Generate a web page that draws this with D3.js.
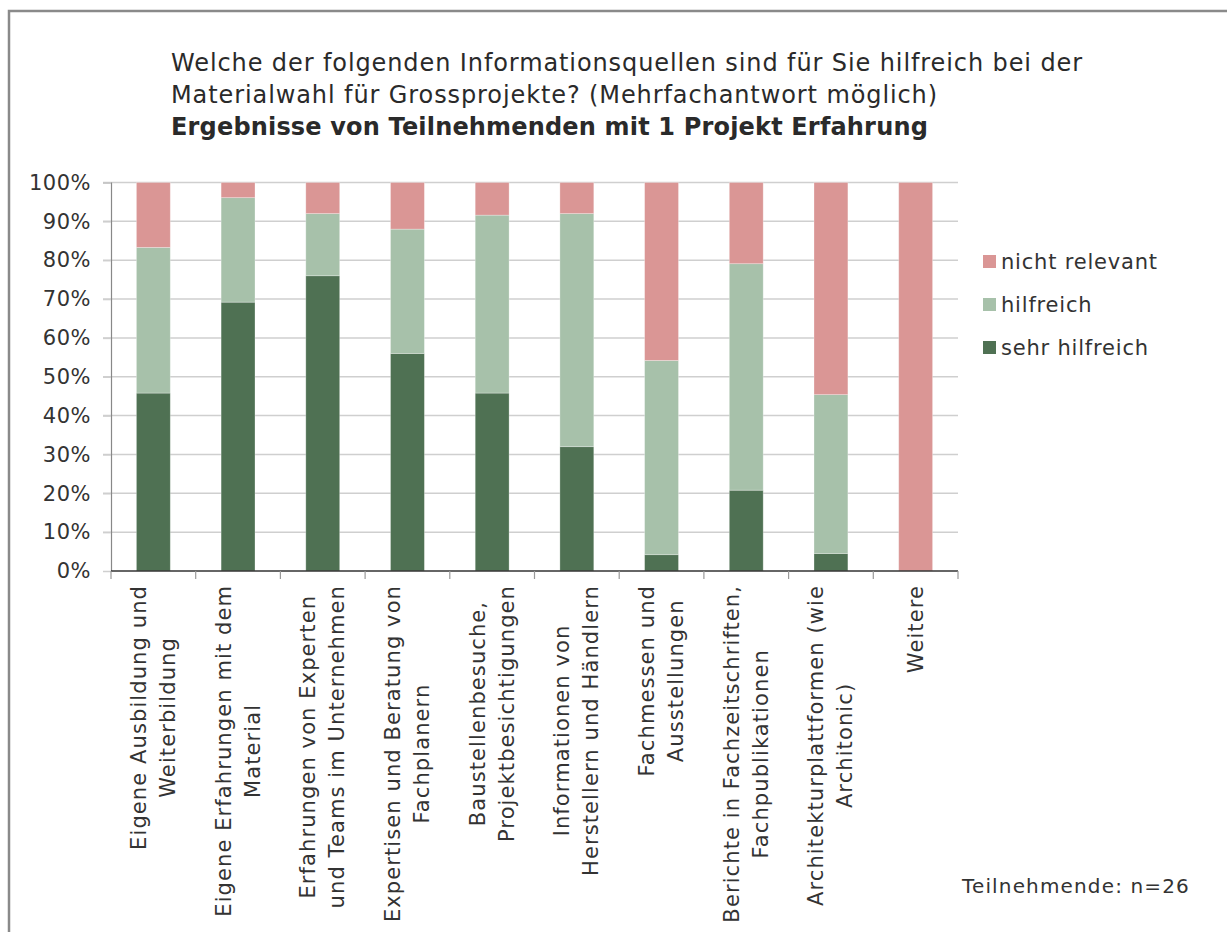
<!DOCTYPE html>
<html>
<head>
<meta charset="utf-8">
<script src="https://cdn.jsdelivr.net/npm/d3@7"></script>
<style>
  body { margin: 0; background: #fff; }
  svg { display: block; }
  text { fill: #333; }
</style>
</head>
<body>
<script>
// survey answers, share of respondents per source
var categories = [
  ["Eigene Ausbildung und", "Weiterbildung"],
  ["Eigene Erfahrungen mit dem", "Material"],
  ["Erfahrungen von Experten", "und Teams im Unternehmen"],
  ["Expertisen und Beratung von", "Fachplanern"],
  ["Baustellenbesuche,", "Projektbesichtigungen"],
  ["Informationen von", "Herstellern und Händlern"],
  ["Fachmessen und", "Ausstellungen"],
  ["Berichte in Fachzeitschriften,", "Fachpublikationen"],
  ["Architekturplattformen (wie", "Architonic)"],
  ["Weitere"]
];
var sehrHilfreich = [45.8, 69.2, 76.0, 56.0, 45.8, 32.0, 4.2, 20.8, 4.5, 0];
var hilfreich     = [37.5, 26.9, 16.0, 32.0, 45.8, 60.0, 50.0, 58.3, 40.9, 0];
var nichtRelevant = [16.7, 3.9, 8.0, 12.0, 8.4, 8.0, 45.8, 20.9, 54.6, 100];

var seriesNames = ["sehr hilfreich", "hilfreich", "nicht relevant"];
var seriesColors = ["#4f7153", "#a7c1aa", "#da9695"];
var yTicks = [0, 10, 20, 30, 40, 50, 60, 70, 80, 90, 100];

var titleLines = [
  "Welche der folgenden Informationsquellen sind für Sie hilfreich bei der",
  "Materialwahl für Grossprojekte? (Mehrfachantwort möglich)"
];
var subtitle = "Ergebnisse von Teilnehmenden mit 1 Projekt Erfahrung";
var note = "Teilnehmende: n=26";

var W = 1227, H = 932;
var plot = { left: 111, right: 958, top: 182.5, bottom: 571 };

var rows = categories.map(function (c, i) {
  return { idx: i, s0: sehrHilfreich[i], s1: hilfreich[i], s2: nichtRelevant[i] };
});

var svg = d3.select("body").append("svg")
  .attr("width", W)
  .attr("height", H);

// outer frame
svg.append("path")
  .attr("d", "M9," + H + "V11H" + W)
  .attr("fill", "none")
  .attr("stroke", "#8a8a8a")
  .attr("stroke-width", 2.5);

var font = "'DejaVu Sans', Verdana, sans-serif";

// stretch a text node with letter-spacing until it is as wide as target
function fitWidth(sel, target) {
  var w = sel.node().getComputedTextLength();
  var n = sel.text().length;
  sel.style("letter-spacing", ((target - w) / n) + "px");
}

var t1 = svg.append("g").selectAll("text")
  .data(titleLines)
  .enter().append("text")
  .attr("x", 171)
  .attr("y", function (d, i) { return 71 + i * 32; })
  .style("font-family", font)
  .style("font-size", "24px")
  .style("fill", "#2a2a2a")
  .text(function (d) { return d; });
fitWidth(d3.select(t1.nodes()[0]), 912);
fitWidth(d3.select(t1.nodes()[1]), 767);

var sub = svg.append("text")
  .attr("x", 171)
  .attr("y", 135)
  .style("font-family", font)
  .style("font-size", "24px")
  .style("font-weight", "bold")
  .style("fill", "#2a2a2a")
  .text(subtitle);
fitWidth(sub, 757);

var x = d3.scaleBand()
  .domain(d3.range(categories.length))
  .range([plot.left, plot.right])
  .paddingInner(0.6)
  .paddingOuter(0.3);

var y = d3.scaleLinear()
  .domain([0, 100])
  .range([plot.bottom, plot.top]);

// grid + y labels
var grid = svg.append("g");
grid.selectAll("line")
  .data(yTicks)
  .enter().append("line")
  .attr("x1", plot.left - 8)
  .attr("x2", plot.right)
  .attr("y1", function (d) { return y(d); })
  .attr("y2", function (d) { return y(d); })
  .attr("stroke", function (d) { return d === 0 ? "none" : "#cfcfcf"; })
  .attr("stroke-width", 1.5);

var yAxis = d3.axisLeft(y)
  .tickValues(yTicks)
  .tickSize(8)
  .tickFormat(function (d) { return d + "%"; });

var yg = svg.append("g")
  .attr("transform", "translate(" + plot.left + ",0)")
  .call(yAxis);
yg.select(".domain").attr("stroke", "#888").attr("stroke-width", 1.2);
yg.selectAll(".tick line").attr("stroke", "#cfcfcf").attr("stroke-width", 1.5);
yg.selectAll(".tick text")
  .attr("x", -20)
  .style("font-family", font)
  .style("font-size", "21px")
  .style("letter-spacing", "0.5px")
  .style("fill", "#333");

// stacked bars
var stack = d3.stack().keys(["s0", "s1", "s2"]);
var layers = stack(rows);

svg.append("g").selectAll("g")
  .data(layers)
  .enter().append("g")
  .attr("fill", function (d, i) { return seriesColors[i]; })
  .selectAll("rect")
  .data(function (d) { return d; })
  .enter().append("rect")
  .attr("x", function (d) { return x(d.data.idx); })
  .attr("width", x.bandwidth())
  .attr("y", function (d) { return y(d[1]); })
  .attr("height", function (d) { return Math.max(0, y(d[0]) - y(d[1])); })
  .attr("stroke", "#ffffff")
  .attr("stroke-opacity", 0.35)
  .attr("stroke-width", 0.8);

// x axis with boundary ticks
var xg = svg.append("g");
xg.append("line")
  .attr("x1", plot.left).attr("x2", plot.right)
  .attr("y1", plot.bottom).attr("y2", plot.bottom)
  .attr("stroke", "#333").attr("stroke-width", 1.5);
var step = (plot.right - plot.left) / categories.length;
xg.selectAll("line.tk")
  .data(d3.range(categories.length + 1))
  .enter().append("line")
  .attr("class", "tk")
  .attr("x1", function (d) { return plot.left + d * step; })
  .attr("x2", function (d) { return plot.left + d * step; })
  .attr("y1", plot.bottom)
  .attr("y2", plot.bottom + 8)
  .attr("stroke", "#999").attr("stroke-width", 1.2);

// category labels, rotated, centred lines, block aligned to the top
var labelTop = 585;
var lineGap = 29;
categories.forEach(function (lines, i) {
  var cx = x(i) + x.bandwidth() / 2;
  var g = svg.append("g")
    .attr("transform", "translate(" + cx + "," + labelTop + ") rotate(-90)");
  var t = g.append("text")
    .style("font-family", font)
    .style("font-size", "21px")
    .style("letter-spacing", "1.1px")
    .attr("text-anchor", "middle");
  var n = lines.length;
  lines.forEach(function (l, j) {
    t.append("tspan")
      .attr("x", 0)
      .attr("y", (j - (n - 1) / 2) * lineGap + 7)
      .text(l);
  });
  var maxW = d3.max(t.selectAll("tspan").nodes(), function (nd) { return nd.getComputedTextLength(); });
  t.selectAll("tspan").attr("x", -maxW / 2);
});

// legend
var legendOrder = [2, 1, 0];
var lg = svg.append("g").selectAll("g")
  .data(legendOrder)
  .enter().append("g")
  .attr("transform", function (d, i) { return "translate(983," + (262 + i * 43) + ")"; });
lg.append("rect")
  .attr("x", 0).attr("y", -7)
  .attr("width", 13).attr("height", 13)
  .attr("fill", function (d) { return seriesColors[d]; });
lg.append("text")
  .attr("x", 18)
  .attr("dy", "0.35em")
  .style("font-family", font)
  .style("font-size", "21px")
  .style("letter-spacing", "0.8px")
  .text(function (d) { return seriesNames[d]; });

var nt = svg.append("text")
  .attr("x", 962)
  .attr("y", 893)
  .style("font-family", font)
  .style("font-size", "20px")
  .text(note);
fitWidth(nt, 228);
</script>
</body>
</html>
